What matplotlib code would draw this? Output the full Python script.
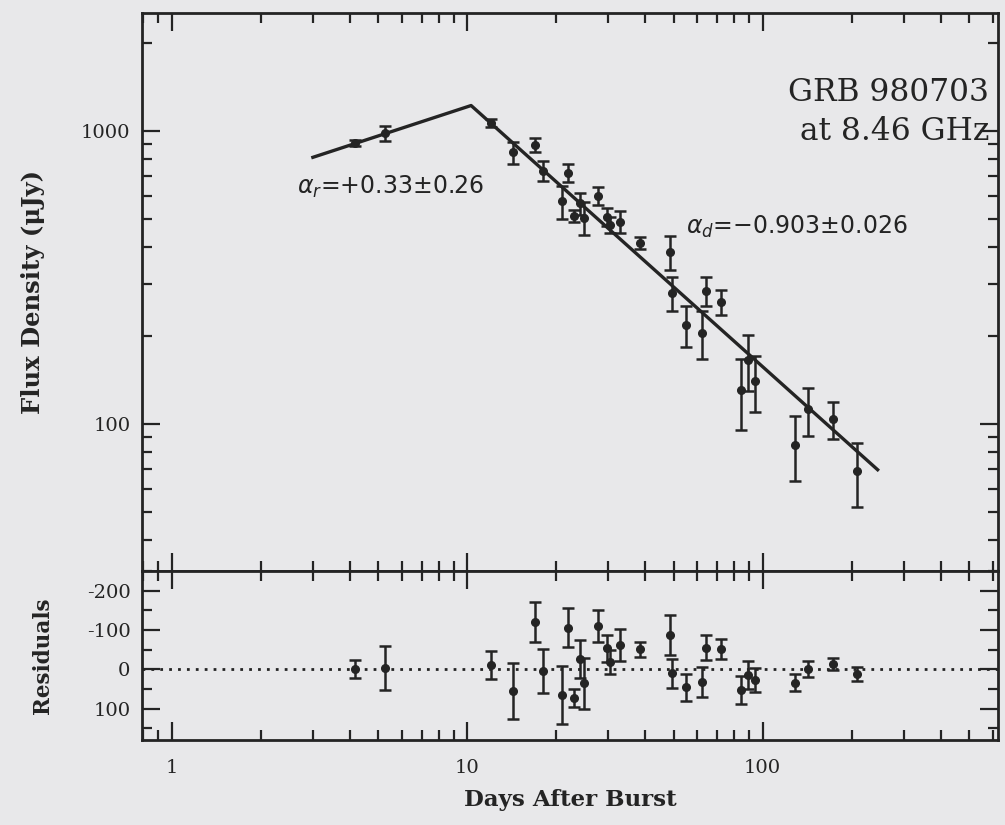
import matplotlib.pyplot as plt
from matplotlib.ticker import LogLocator, MultipleLocator, NullFormatter, FixedLocator

# 8.46 GHz light curve of GRB 980703
days = [4.17, 5.27, 12.06, 14.3, 16.9, 18.1, 21.0, 22.0, 23.0, 24.0,
        24.9, 27.8, 29.8, 30.5, 32.8, 38.3, 48.4, 49.5, 54.8, 62.1,
        64.1, 72.1, 84.2, 89.0, 94.0, 128.3, 142.1, 172.7, 208.3]
flux = [910, 980, 1065, 845, 895, 730, 575, 720, 513, 565,
        505, 600, 510, 478, 490, 415, 385, 280, 218, 205,
        285, 261, 131, 165, 140, 85, 112, 104, 69]
flux_err = [23, 56, 36, 72, 51, 56, 74, 49, 23, 49,
            65, 41, 35, 30, 41, 19, 51, 37, 35, 38,
            32, 26, 36, 36, 30, 21, 21, 15, 17]
resid = [-1, -3, -10, 55, -120, 5, 65, -106, 74, -26,
         36, -109, -53, -19, -62, -51, -88, 10, 46, 32,
         -55, -52, 52, 14, 27, 34, -1, -13, 12]

# broken power-law fit
alpha_r = 0.33
alpha_d = -0.903
t_break = 10.3
f_peak = 1220
fit_start, fit_end = 3.0, 245.0

ink = '#242424'
paper = '#e8e8ea'
serif = 'DejaVu Serif'

fig = plt.figure(figsize=(10.05, 8.25), dpi=100, facecolor=paper)
ax1 = fig.add_axes([0.141, 0.308, 0.852, 0.676], facecolor=paper)
ax2 = fig.add_axes([0.141, 0.103, 0.852, 0.205], facecolor=paper, sharex=ax1)

fit_t = [fit_start, t_break, fit_end]
fit_f = [f_peak * (fit_start / t_break) ** alpha_r, f_peak,
         f_peak * (fit_end / t_break) ** alpha_d]

eb = dict(fmt='o', ms=5.5, color=ink, ecolor=ink, elinewidth=1.8,
          capsize=4.5, capthick=1.8, zorder=3)
ax1.errorbar(days, flux, yerr=flux_err, **eb)
ax1.plot(fit_t, fit_f, color=ink, lw=2.4, zorder=2)

ax1.set_xscale('log')
ax1.set_yscale('log')
ax1.set_xlim(0.79, 626)
ax1.set_ylim(31.5, 2520)

ax1.text(0.99, 0.885, 'GRB 980703\nat 8.46 GHz', transform=ax1.transAxes,
         ha='right', va='top', family=serif, fontsize=22.5, color=ink,
         linespacing=1.3)
ax1.text(2.65, 645, r'$\alpha_r$=+0.33±0.26', ha='left', va='center',
         fontsize=17, color=ink)
ax1.text(54.8, 471, r'$\alpha_d$=−0.903±0.026', ha='left', va='center',
         fontsize=17, color=ink)

ax1.set_ylabel('Flux Density (μJy)', family=serif, fontsize=17.5,
               fontweight='bold', color=ink, labelpad=26)
ax1.yaxis.set_major_locator(FixedLocator([100, 1000]))
ax1.set_yticklabels(['100', '1000'])
ax1.yaxis.set_minor_locator(LogLocator(base=10, subs=range(2, 10)))
ax1.yaxis.set_minor_formatter(NullFormatter())
ax1.tick_params(labelbottom=False)

# residual panel
ax2.errorbar(days, resid, yerr=flux_err, **eb)
ax2.axhline(0, color=ink, lw=2, ls=(0, (1, 2.2)), zorder=1)
ax2.set_ylim(180, -250)
ax2.set_yticks([-200, -100, 0, 100])
ax2.set_yticklabels(['-200', '-100', '0', '100'])
ax2.yaxis.set_minor_locator(MultipleLocator(50))
ax2.set_ylabel('Residuals', family=serif, fontsize=15.5, fontweight='bold',
               color=ink, labelpad=24)
ax2.set_xlabel('Days After Burst', family=serif, fontsize=16.5,
               fontweight='bold', color=ink, labelpad=8)

ax2.xaxis.set_major_locator(FixedLocator([1, 10, 100]))
ax2.set_xticklabels(['1', '10', '100'])
ax2.xaxis.set_minor_locator(LogLocator(base=10, subs=range(2, 10)))
ax2.xaxis.set_minor_formatter(NullFormatter())

for ax in (ax1, ax2):
    for sp in ax.spines.values():
        sp.set_linewidth(2.0)
        sp.set_color(ink)
    ax.tick_params(which='both', direction='in', top=True, right=True,
                   width=1.6, color=ink, labelcolor=ink)
    ax.tick_params(which='major', length=13, labelsize=14, pad=8)
    ax.tick_params(which='minor', length=7)
    for lab in ax.get_xticklabels() + ax.get_yticklabels():
        lab.set_family(serif)
ax2.tick_params(axis='x', which='major', pad=14)

fig.savefig('out.png', dpi=100, facecolor=paper)
